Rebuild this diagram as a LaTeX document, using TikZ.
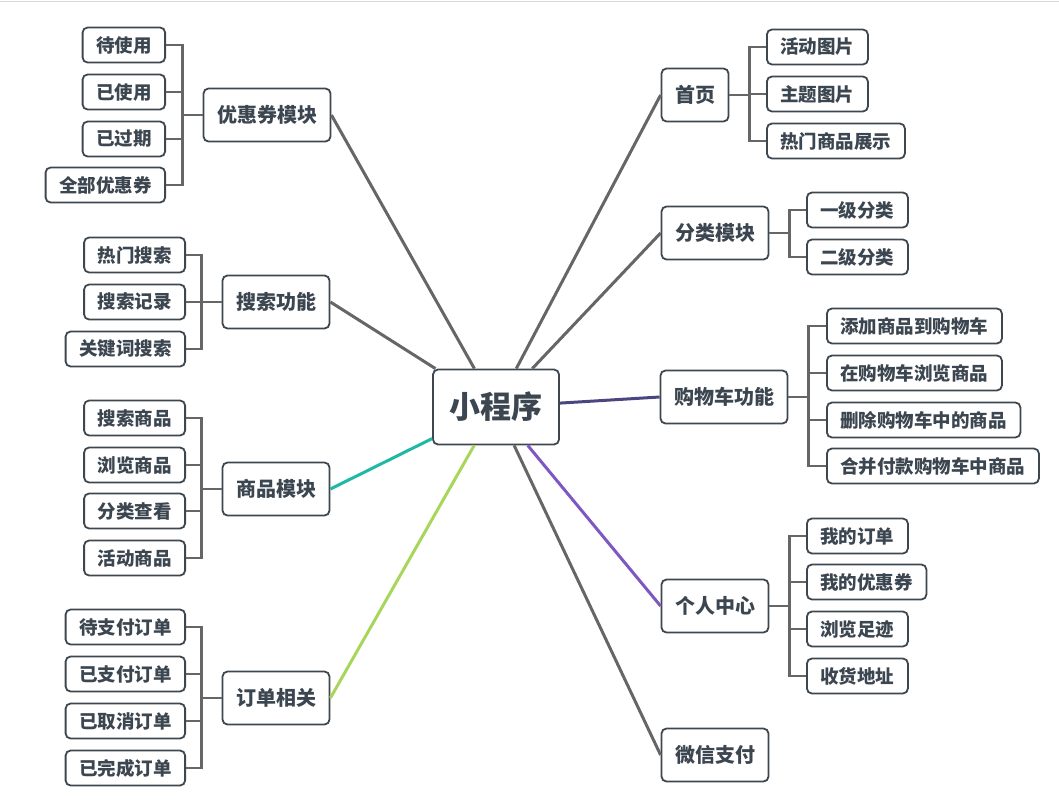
\documentclass[tikz,border=0pt]{standalone}
\usepackage{fontspec}
\setmainfont{Noto Sans CJK SC}
\usepackage{tikz}
\usetikzlibrary{positioning}

\definecolor{boxline}{HTML}{3E4750}
\definecolor{boxtext}{HTML}{3C4650}
\definecolor{linegray}{HTML}{666666}
\definecolor{cartline}{HTML}{4B4680}
\definecolor{userline}{HTML}{7E57C2}
\definecolor{goodsline}{HTML}{1DB9A5}
\definecolor{orderline}{HTML}{A8D65A}

\begin{document}
\begin{tikzpicture}[x=1pt, y=-1pt,
        every node/.style={draw=boxline, line width=1.8pt, rounded corners=5pt,
          fill=white, text=boxtext, font=\bfseries, inner xsep=13.5pt, inner ysep=0pt},
        root/.style={minimum height=75pt, inner xsep=16.5pt, font=\bfseries\fontsize{31}{31}\selectfont},
        topic/.style={minimum height=53pt, font=\bfseries\fontsize{20}{20}\selectfont},
        leaf/.style={minimum height=35pt, font=\bfseries\fontsize{18.5}{18.5}\selectfont},
        branch/.style={line width=3pt, draw=linegray},
        bracket/.style={line width=2.4pt, draw=linegray}]

        \useasboundingbox (0,0) rectangle (1059,806);
        \draw[line width=1pt, black!15] (0,1.5) -- (1059,1.5);

        %%% centre
        \node[root] (app) at (496,407) {小程序};

        %%% left side topics
        \node[topic] (coupon) at (267,115) {优惠券模块};
        \node[topic] (search) at (276,302) {搜索功能};
        \node[topic] (goods) at (276,489) {商品模块};
        \node[topic] (order) at (276,698) {订单相关};

        %%% right side topics
        \node[topic] (home) at (695,95) {首页};
        \node[topic] (category) at (715,233) {分类模块};
        \node[topic] (cart) at (724,397) {购物车功能};
        \node[topic] (user) at (715,606) {个人中心};
        \node[topic] (pay) at (715,755) {微信支付};

        %%% branches from the centre
        \draw[branch] (coupon.east) -- (app);
        \draw[branch] (search.east) -- (app);
        \draw[branch, draw=goodsline] (goods.east) -- (app);
        \draw[branch, draw=orderline] (order.east) -- (app);
        \draw[branch] (home.west) -- (app);
        \draw[branch] (category.west) -- (app);
        \draw[branch, draw=cartline] (cart.west) -- (app);
        \draw[branch, draw=userline] (user.west) -- (app);
        \draw[branch] (pay.west) -- (app);

        %%% 优惠券模块 leaves
        \node[leaf, anchor=east] (coupon1) at (166,45) {待使用};
        \node[leaf, anchor=east] (coupon2) at (166,92) {已使用};
        \node[leaf, anchor=east] (coupon3) at (166,139) {已过期};
        \node[leaf, anchor=east] (coupon4) at (166,185) {全部优惠券};

        %%% 搜索功能 leaves
        \node[leaf, anchor=east] (search1) at (186,255) {热门搜索};
        \node[leaf, anchor=east] (search2) at (186,302) {搜索记录};
        \node[leaf, anchor=east] (search3) at (186,349) {关键词搜索};

        %%% 商品模块 leaves
        \node[leaf, anchor=east] (goods1) at (186,418) {搜索商品};
        \node[leaf, anchor=east] (goods2) at (186,465) {浏览商品};
        \node[leaf, anchor=east] (goods3) at (186,511) {分类查看};
        \node[leaf, anchor=east] (goods4) at (186,558) {活动商品};

        %%% 订单相关 leaves
        \node[leaf, anchor=east] (order1) at (186,627) {待支付订单};
        \node[leaf, anchor=east] (order2) at (186,674) {已支付订单};
        \node[leaf, anchor=east] (order3) at (186,721) {已取消订单};
        \node[leaf, anchor=east] (order4) at (186,768) {已完成订单};

        %%% 首页 leaves
        \node[leaf, anchor=west] (home1) at (766,47) {活动图片};
        \node[leaf, anchor=west] (home2) at (766,94) {主题图片};
        \node[leaf, anchor=west] (home3) at (766,141) {热门商品展示};

        %%% 分类模块 leaves
        \node[leaf, anchor=west] (category1) at (806,210) {一级分类};
        \node[leaf, anchor=west] (category2) at (806,257) {二级分类};

        %%% 购物车功能 leaves
        \node[leaf, anchor=west] (cart1) at (826,326) {添加商品到购物车};
        \node[leaf, anchor=west] (cart2) at (826,373) {在购物车浏览商品};
        \node[leaf, anchor=west] (cart3) at (826,420) {删除购物车中的商品};
        \node[leaf, anchor=west] (cart4) at (826,466) {合并付款购物车中商品};

        %%% 个人中心 leaves
        \node[leaf, anchor=west] (user1) at (806,536) {我的订单};
        \node[leaf, anchor=west] (user2) at (806,582) {我的优惠券};
        \node[leaf, anchor=west] (user3) at (806,629) {浏览足迹};
        \node[leaf, anchor=west] (user4) at (806,676) {收货地址};

        %%% brackets to the leaves
        \foreach \t/\n in {coupon/4, search/3, goods/4, order/4}
          \foreach \i in {1,...,\n}
            \draw[bracket] (\t.west) -- ++(-20,0) |- (\t\i.east);
        \foreach \t/\n in {home/3, category/2, cart/4, user/4}
          \foreach \i in {1,...,\n}
            \draw[bracket] (\t.east) -- ++(20,0) |- (\t\i.west);
      \end{tikzpicture}
\end{document}
